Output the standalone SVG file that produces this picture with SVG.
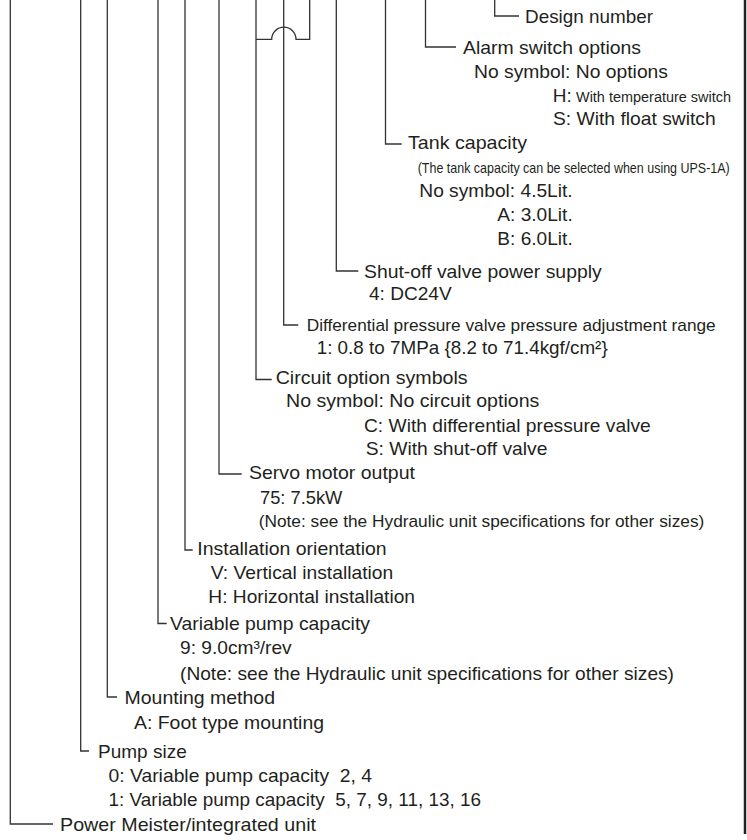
<svg xmlns="http://www.w3.org/2000/svg" width="747" height="840" viewBox="0 0 747 840">
<style>
.ln{fill:none;stroke:#333;stroke-width:1.3}
.bd{fill:none;stroke:#222;stroke-width:2.5}
text{font-family:"Liberation Sans",Arial,Helvetica,sans-serif;font-size:19px;fill:#231f20}
.s17{font-size:17px}
.s14{font-size:14px}
</style>
<rect width="747" height="840" fill="#fff"/>
<g id="connectors">
<path class="ln" d="M10.3,0 V824 H53"/>
<path class="ln" d="M80.7,0 V751 H89"/>
<path class="ln" d="M107.3,0 V697 H117"/>
<path class="ln" d="M158,0 V623.5 H166.7"/>
<path class="ln" d="M185,0 V550 H192.7"/>
<path class="ln" d="M219,0 V474 H241.7"/>
<path class="ln" d="M256,0 V379.5 H271.7"/>
<path class="ln" d="M283.7,0 V325 H298.3"/>
<path class="ln" d="M309.7,0 V39.3 H296 A12.15,12.15 0 0 0 271.7,39.3 H256"/>
<path class="ln" d="M336.3,0 V271 H358.3"/>
<path class="ln" d="M385.5,0 V144 H401.7"/>
<path class="ln" d="M425.5,0 V47 H456"/>
<path class="ln" d="M494.7,0 V16 H519"/>
<path class="bd" d="M745,0 V834"/>
</g>
<g id="design-number">
<text x="525" y="22.5" textLength="128" lengthAdjust="spacingAndGlyphs">Design number</text>
</g>
<g id="alarm-switch">
<text x="463" y="53.5" textLength="178" lengthAdjust="spacingAndGlyphs">Alarm switch options</text>
<text x="474" y="77.5" textLength="194" lengthAdjust="spacingAndGlyphs">No symbol: No options</text>
<text x="552.7" y="101.5">H:</text>
<text class="s14" x="576" y="101.5" textLength="155" lengthAdjust="spacingAndGlyphs">With temperature switch</text>
<text x="553" y="125" textLength="162.7" lengthAdjust="spacingAndGlyphs">S: With float switch</text>
</g>
<g id="tank-capacity">
<text x="408" y="148.5" textLength="119" lengthAdjust="spacingAndGlyphs">Tank capacity</text>
<text class="s14" transform="translate(417.7,172.5) scale(0.892,1)" x="0" y="0">(The tank capacity can be selected when using UPS-1A)</text>
<text x="419.3" y="196.7" textLength="153.4" lengthAdjust="spacingAndGlyphs">No symbol: 4.5Lit.</text>
<text x="497.3" y="221" textLength="75.4" lengthAdjust="spacingAndGlyphs">A: 3.0Lit.</text>
<text x="497.3" y="245" textLength="75.4" lengthAdjust="spacingAndGlyphs">B: 6.0Lit.</text>
</g>
<g id="shutoff-power">
<text x="364" y="277.5" textLength="237.7" lengthAdjust="spacingAndGlyphs">Shut-off valve power supply</text>
<text x="369" y="300" textLength="82.7" lengthAdjust="spacingAndGlyphs">4: DC24V</text>
</g>
<g id="diff-pressure">
<text class="s17" x="306.7" y="330.5" textLength="409" lengthAdjust="spacingAndGlyphs">Differential pressure valve pressure adjustment range</text>
<text x="316.7" y="354" textLength="291" lengthAdjust="spacingAndGlyphs">1: 0.8 to 7MPa {8.2 to 71.4kgf/cm²}</text>
</g>
<g id="circuit-options">
<text x="275.7" y="384" textLength="192" lengthAdjust="spacingAndGlyphs">Circuit option symbols</text>
<text x="286" y="407.3" textLength="253.3" lengthAdjust="spacingAndGlyphs">No symbol: No circuit options</text>
<text x="364" y="431.5" textLength="286.7" lengthAdjust="spacingAndGlyphs">C: With differential pressure valve</text>
<text x="365.7" y="455" textLength="181.8" lengthAdjust="spacingAndGlyphs">S: With shut-off valve</text>
</g>
<g id="servo-motor">
<text x="249" y="479" textLength="166" lengthAdjust="spacingAndGlyphs">Servo motor output</text>
<text x="260" y="503.5" textLength="82.3" lengthAdjust="spacingAndGlyphs">75: 7.5kW</text>
<text class="s17" x="258.7" y="527" textLength="445.6" lengthAdjust="spacingAndGlyphs">(Note: see the Hydraulic unit specifications for other sizes)</text>
</g>
<g id="installation">
<text x="197.3" y="555" textLength="189.4" lengthAdjust="spacingAndGlyphs">Installation orientation</text>
<text x="210.7" y="579" textLength="182.6" lengthAdjust="spacingAndGlyphs">V: Vertical installation</text>
<text x="208.3" y="602.7" textLength="206.7" lengthAdjust="spacingAndGlyphs">H: Horizontal installation</text>
</g>
<g id="variable-pump">
<text x="170" y="630" textLength="200" lengthAdjust="spacingAndGlyphs">Variable pump capacity</text>
<text x="180" y="654" textLength="111.7" lengthAdjust="spacingAndGlyphs">9: 9.0cm³/rev</text>
<text x="180" y="679.5" textLength="494" lengthAdjust="spacingAndGlyphs">(Note: see the Hydraulic unit specifications for other sizes)</text>
</g>
<g id="mounting">
<text x="124.5" y="704" textLength="150.5" lengthAdjust="spacingAndGlyphs">Mounting method</text>
<text x="134" y="729" textLength="190" lengthAdjust="spacingAndGlyphs">A: Foot type mounting</text>
</g>
<g id="pump-size">
<text x="98" y="757.5" textLength="88.7" lengthAdjust="spacingAndGlyphs">Pump size</text>
<text x="108.6" y="782" textLength="263.4" lengthAdjust="spacingAndGlyphs" xml:space="preserve">0: Variable pump capacity  2, 4</text>
<text x="108.6" y="806" textLength="372.4" lengthAdjust="spacingAndGlyphs" xml:space="preserve">1: Variable pump capacity  5, 7, 9, 11, 13, 16</text>
</g>
<g id="power-meister">
<text x="60" y="831" textLength="256" lengthAdjust="spacingAndGlyphs">Power Meister/integrated unit</text>
</g>
</svg>
